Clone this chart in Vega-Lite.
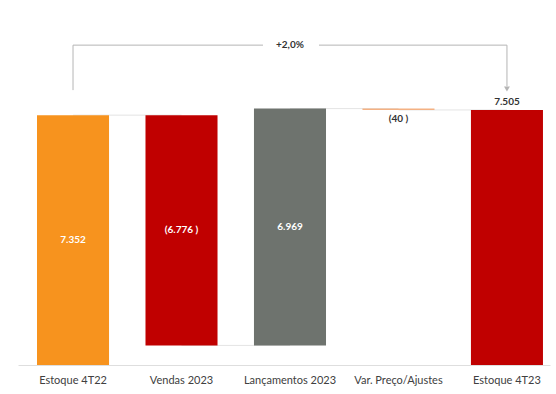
{
  "$schema": "https://vega.github.io/schema/vega-lite/v6.json",
  "width": 532,
  "height": 365,
  "autosize": "none",
  "padding": {"left": 18, "top": 0, "right": 6, "bottom": 29},
  "background": "white",
  "config": {"view": {"stroke": null}, "font": "Lato"},
  "datasets": {
    "bars": [
      {"cat": "Estoque 4T22", "start": 0, "end": 7352, "label": "7.352", "kind": "a"},
      {"cat": "Vendas 2023", "start": 7352, "end": 576, "label": "(6.776 )", "kind": "b"},
      {"cat": "Lançamentos 2023", "start": 576, "end": 7545, "label": "6.969", "kind": "c"},
      {"cat": "Var. Preço/Ajustes", "start": 7545, "end": 7505, "label": "(40 )", "kind": "d"},
      {"cat": "Estoque 4T23", "start": 0, "end": 7505, "label": "7.505", "kind": "e"}
    ],
    "links": [
      {"from": "Estoque 4T22", "to": "Vendas 2023", "level": 7352},
      {"from": "Vendas 2023", "to": "Lançamentos 2023", "level": 576},
      {"from": "Lançamentos 2023", "to": "Var. Preço/Ajustes", "level": 7545},
      {"from": "Var. Preço/Ajustes", "to": "Estoque 4T23", "level": 7505}
    ],
    "verticals": [
      {"cat": "Estoque 4T22", "y": 8088, "y2": 9412},
      {"cat": "Estoque 4T23", "y": 9412, "y2": 8200}
    ],
    "top": [
      {"from": "Estoque 4T22", "mid": "Lançamentos 2023", "to": "Estoque 4T23", "level": 9412, "text": "+2,0%", "arrow": 8120}
    ]
  },
  "layer": [
    {
      "data": {"name": "links"},
      "mark": {"type": "rule", "color": "#e4e4e4", "strokeWidth": 1},
      "encoding": {
        "x": {
          "field": "from", "type": "nominal",
          "scale": {"domain": ["Estoque 4T22", "Vendas 2023", "Lançamentos 2023", "Var. Preço/Ajustes", "Estoque 4T23"], "paddingInner": 0.336, "paddingOuter": 0.12, "align": 0.73},
          "axis": {"title": null, "labelAngle": 0, "ticks": false, "domainColor": "#dedede", "labelPadding": 9, "labelFontSize": 11, "labelColor": "#404040", "labelFont": "Lato"}
        },
        "x2": {"field": "to"},
        "y": {"field": "level", "type": "quantitative", "scale": {"domain": [0, 10740], "nice": false, "zero": true}, "axis": null}
      }
    },
    {
      "data": {"name": "bars"},
      "mark": {"type": "bar"},
      "encoding": {
        "x": {"field": "cat", "type": "nominal", "sort": null},
        "y": {"field": "start", "type": "quantitative"},
        "y2": {"field": "end"},
        "color": {
          "field": "kind", "type": "nominal", "legend": null,
          "scale": {"domain": ["a", "b", "c", "d", "e"], "range": ["#F7931E", "#C00000", "#6E736E", "#F4B183", "#C00000"]}
        }
      }
    },
    {
      "data": {"name": "bars"},
      "transform": [
        {"filter": "datum.kind == 'a' || datum.kind == 'b' || datum.kind == 'c'"},
        {"calculate": "(datum.start + datum.end) / 2", "as": "mid"}
      ],
      "mark": {"type": "text", "color": "white", "fontSize": 10, "fontWeight": "bold", "baseline": "middle"},
      "encoding": {
        "x": {"field": "cat", "type": "nominal"},
        "y": {"field": "mid", "type": "quantitative"},
        "text": {"field": "label"}
      }
    },
    {
      "data": {"name": "bars"},
      "transform": [{"filter": "datum.kind == 'd'"}],
      "mark": {"type": "text", "color": "#333333", "fontSize": 10, "fontWeight": "bold", "baseline": "top", "dy": 4},
      "encoding": {
        "x": {"field": "cat", "type": "nominal"},
        "y": {"field": "end", "type": "quantitative"},
        "text": {"field": "label"}
      }
    },
    {
      "data": {"name": "bars"},
      "transform": [{"filter": "datum.kind == 'e'"}],
      "mark": {"type": "text", "color": "#333333", "fontSize": 10, "fontWeight": "bold", "baseline": "bottom", "dy": -3},
      "encoding": {
        "x": {"field": "cat", "type": "nominal"},
        "y": {"field": "end", "type": "quantitative"},
        "text": {"field": "label"}
      }
    },
    {
      "data": {"name": "verticals"},
      "mark": {"type": "rule", "color": "#b5b5b5", "strokeWidth": 1},
      "encoding": {
        "x": {"field": "cat", "type": "nominal"},
        "y": {"field": "y", "type": "quantitative"},
        "y2": {"field": "y2"}
      }
    },
    {
      "data": {"name": "top"},
      "mark": {"type": "rule", "color": "#b5b5b5", "strokeWidth": 1, "x2Offset": -27},
      "encoding": {
        "x": {"field": "from", "type": "nominal"},
        "x2": {"field": "mid"},
        "y": {"field": "level", "type": "quantitative"}
      }
    },
    {
      "data": {"name": "top"},
      "mark": {"type": "rule", "color": "#b5b5b5", "strokeWidth": 1, "xOffset": 29},
      "encoding": {
        "x": {"field": "mid", "type": "nominal"},
        "x2": {"field": "to"},
        "y": {"field": "level", "type": "quantitative"}
      }
    },
    {
      "data": {"name": "top"},
      "mark": {"type": "point", "shape": "triangle-down", "filled": true, "color": "#b5b5b5", "size": 35, "opacity": 1},
      "encoding": {
        "x": {"field": "to", "type": "nominal"},
        "y": {"field": "arrow", "type": "quantitative"}
      }
    },
    {
      "data": {"name": "top"},
      "mark": {"type": "text", "color": "#333333", "fontSize": 10, "fontWeight": "bold", "baseline": "middle"},
      "encoding": {
        "x": {"field": "mid", "type": "nominal"},
        "y": {"field": "level", "type": "quantitative"},
        "text": {"field": "text"}
      }
    }
  ]
}
